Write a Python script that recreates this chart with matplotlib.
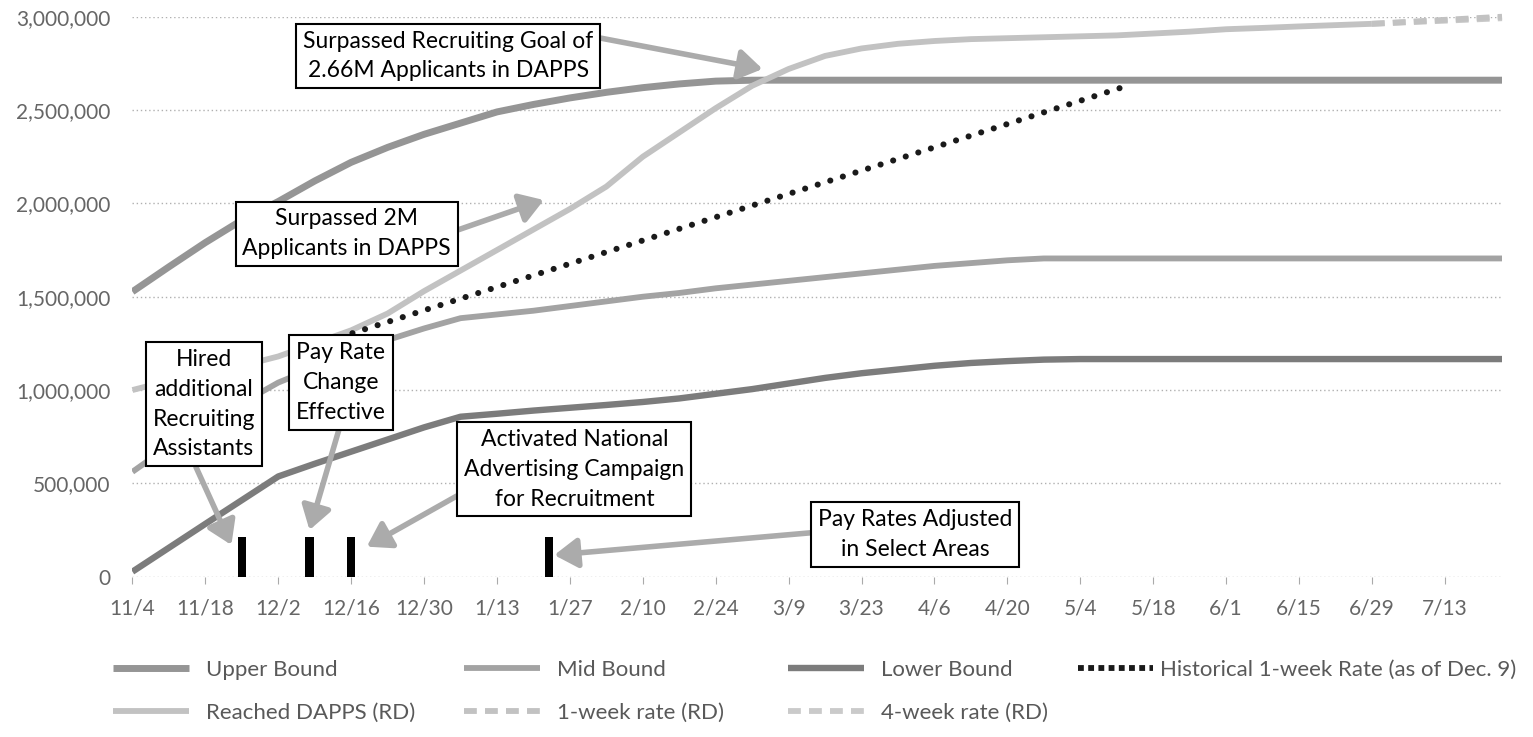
import matplotlib.pyplot as plt
import pandas as pd
from matplotlib.lines import Line2D

plt.rcParams['font.family'] = ['Lato', 'DejaVu Sans']

# weekly dates starting 11/4
week_dates = pd.date_range("2019-11-04", periods=35, freq="7D")
end_date = pd.Timestamp("2020-07-24")

upper_vals = [1.527, 1.66, 1.79, 1.91, 2.01, 2.12, 2.22, 2.30, 2.37, 2.43,
              2.49, 2.53, 2.565, 2.595, 2.62, 2.64, 2.655, 2.66]
mid_vals = [0.562, 0.70, 0.82, 0.93, 1.04, 1.12, 1.19, 1.268, 1.33, 1.385,
            1.405, 1.425, 1.45, 1.475, 1.50, 1.52, 1.545, 1.565, 1.585, 1.605,
            1.625, 1.645, 1.665, 1.68, 1.695, 1.705]
lower_vals = [0.027, 0.155, 0.283, 0.41, 0.537, 0.605, 0.67, 0.735, 0.80, 0.857,
              0.873, 0.89, 0.905, 0.92, 0.936, 0.955, 0.98, 1.005, 1.035, 1.065,
              1.09, 1.11, 1.13, 1.145, 1.155, 1.163, 1.166]
reached_vals = [1.00, 1.05, 1.09, 1.13, 1.18, 1.25, 1.32, 1.41, 1.53, 1.64,
                1.75, 1.86, 1.97, 2.09, 2.25, 2.38, 2.51, 2.63, 2.72, 2.79,
                2.83, 2.855, 2.87, 2.88, 2.885, 2.89, 2.895, 2.90, 2.91, 2.92,
                2.933, 2.94, 2.948, 2.955, 2.962]

rate_dates = ["2020-06-29", "2020-07-24"]
rate1_vals = [2.962, 3.0]
rate4_vals = [2.962, 2.992]

hist_dates = ["2019-12-09", "2020-05-13"]
hist_vals = [1.24, 2.63]

event_dates = ["2019-11-25", "2019-12-08", "2019-12-16", "2020-01-23"]
event_height = 0.215

tick_dates = pd.date_range("2019-11-04", "2020-07-13", freq="14D")
tick_labels = ["11/4", "11/18", "12/2", "12/16", "12/30", "1/13", "1/27", "2/10",
               "2/24", "3/9", "3/23", "4/6", "4/20", "5/4", "5/18", "6/1",
               "6/15", "6/29", "7/13"]
y_ticks = [0, 0.5, 1.0, 1.5, 2.0, 2.5, 3.0]
y_labels = ["0", "500,000", "1,000,000", "1,500,000", "2,000,000", "2,500,000", "3,000,000"]

M = 1e6
fig = plt.figure(figsize=(15.33, 7.37), dpi=100)
ax = fig.add_axes([0.0864, 0.2175, 0.8934, 0.7598])

styles = {
    "upper": dict(color="#959595", lw=5.0, solid_capstyle="butt"),
    "mid": dict(color="#a3a3a3", lw=4.2, solid_capstyle="butt"),
    "lower": dict(color="#7c7c7c", lw=4.6, solid_capstyle="butt"),
    "hist": dict(color="#1a1a1a", lw=4.4, linestyle=(0, (0.01, 2.15)), dash_capstyle="round"),
    "reached": dict(color="#c2c2c2", lw=4.2, solid_capstyle="butt"),
    "rate1": dict(color="#c2c2c2", lw=4.2, linestyle=(0, (2.2, 1.4))),
    "rate4": dict(color="#cacaca", lw=4.2, linestyle=(0, (2.2, 1.4))),
}

ax.plot(list(week_dates[:18]) + [end_date], [v * M for v in upper_vals + [upper_vals[-1]]], zorder=3, **styles["upper"])
ax.plot(list(week_dates[:26]) + [end_date], [v * M for v in mid_vals + [mid_vals[-1]]], zorder=3, **styles["mid"])
ax.plot(list(week_dates[:27]) + [end_date], [v * M for v in lower_vals + [lower_vals[-1]]], zorder=3, **styles["lower"])
ax.plot(week_dates, [v * M for v in reached_vals], zorder=3, clip_on=False, **styles["reached"])
ax.plot(pd.to_datetime(rate_dates), [v * M for v in rate4_vals], zorder=3, clip_on=False, **styles["rate4"])
ax.plot(pd.to_datetime(rate_dates), [v * M for v in rate1_vals], zorder=3, clip_on=False, **styles["rate1"])
ax.plot(pd.to_datetime(hist_dates), [v * M for v in hist_vals], zorder=4, **styles["hist"])

ax.bar(pd.to_datetime(event_dates), [event_height * M] * len(event_dates), width=1.6,
       color="black", zorder=4)

ax.set_xlim(week_dates[0], end_date)
ax.set_ylim(0, 3.0 * M)
ax.set_xticks(tick_dates)
ax.set_xticklabels(tick_labels)
ax.set_yticks([v * M for v in y_ticks])
ax.set_yticklabels(y_labels)
for s in ax.spines.values():
    s.set_visible(False)
ax.grid(axis="y", linestyle=(0, (1, 2)), color="#b0b0b0", lw=1.0, zorder=0)
ax.tick_params(axis="x", length=5, color="#aaaaaa", labelsize=15, labelcolor="#666666", pad=11)
ax.tick_params(axis="y", length=0, labelsize=15, labelcolor="#666666", pad=16)

# annotations
box = dict(boxstyle="square,pad=0.3", fc="white", ec="black", lw=1.5)


def arrow(rel):
    return dict(arrowstyle="-|>,head_length=0.7,head_width=0.45", color="#ababab",
                lw=4, shrinkA=0, shrinkB=0, relpos=rel, mutation_scale=20)


notes = [
    ("Surpassed Recruiting Goal of\n2.66M Applicants in DAPPS", ("2020-03-04", 2.72), (0.2306, 0.9298), (1.0, 0.88)),
    ("Surpassed 2M\nApplicants in DAPPS", ("2020-01-22", 2.018), (0.1565, 0.6123), (1.0, 0.53)),
    ("Hired\nadditional\nRecruiting\nAssistants", ("2019-11-23", 0.17), (0.0521, 0.308), (0.39, 0.0)),
    ("Pay Rate\nChange\nEffective", ("2019-12-08", 0.25), (0.1522, 0.3468), (0.5, 0.0)),
    ("Activated National\nAdvertising Campaign\nfor Recruitment", ("2019-12-19", 0.161), (0.3227, 0.192), (0.0, 0.22)),
    ("Pay Rates Adjusted\nin Select Areas", ("2020-01-24", 0.116), (0.5716, 0.075), (0.0, 0.55)),
]
for text, (xd, yv), pos, rel in notes:
    ax.annotate(text, xy=(pd.Timestamp(xd), yv * M), xytext=pos, textcoords="axes fraction",
                ha="center", va="center", fontsize=16.5, color="black", linespacing=1.52,
                bbox=box, arrowprops=arrow(rel), zorder=6)

# legend, one per column
def handle(key):
    return Line2D([], [], **styles[key])


hist_handle = Line2D([], [], color="#1a1a1a", lw=4.2, linestyle=(0, (1, 0.75)), dash_capstyle="butt")

columns = [
    ([handle("upper"), handle("reached")], ["Upper Bound", "Reached DAPPS (RD)"], 0.0737, 0.8),
    ([handle("mid"), handle("rate1")], ["Mid Bound", "1-week rate (RD)"], 0.3027, 0.8),
    ([handle("lower"), handle("rate4")], ["Lower Bound", "4-week rate (RD)"], 0.514, 0.8),
    ([hist_handle], ["Historical 1-week Rate (as of Dec. 9)"], 0.703, 0.3),
]
for hs, labels, xpos, tpad in columns:
    leg = fig.legend(hs, labels, loc="upper left", bbox_to_anchor=(xpos, 0.105), frameon=False,
                     fontsize=16, handlelength=3.4, handletextpad=tpad, labelspacing=1.03,
                     borderpad=0, borderaxespad=0)
    for t in leg.get_texts():
        t.set_color("#595959")

fig.savefig("out.png", dpi=100)
